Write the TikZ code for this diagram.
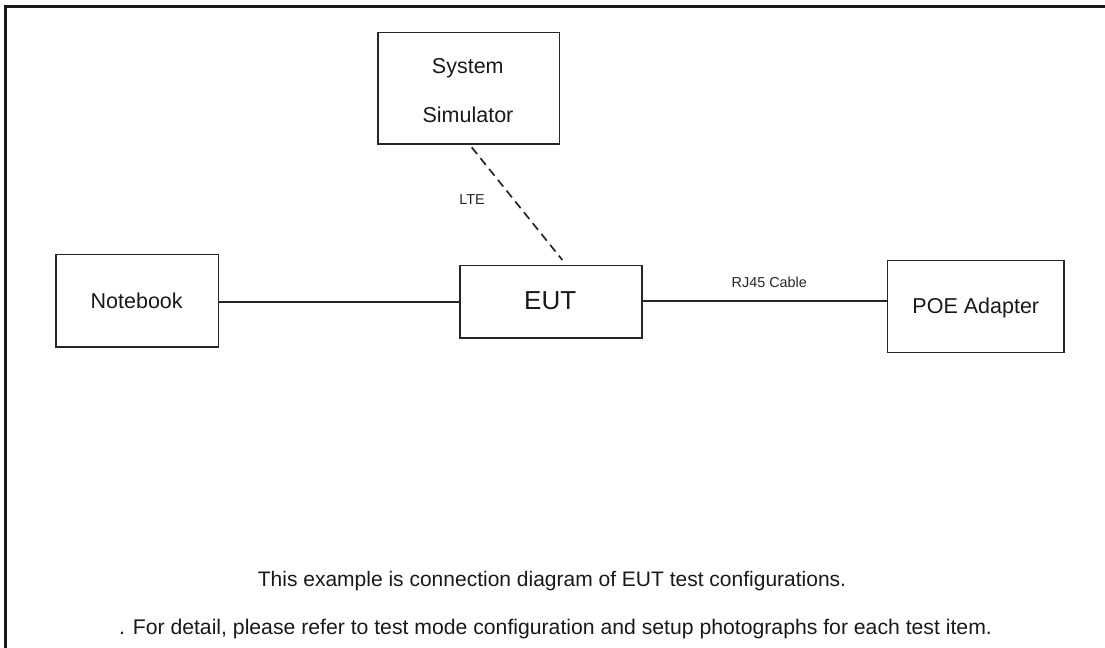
\documentclass[tikz,border=0pt]{standalone}
\usepackage{fontspec}
\setmainfont{Liberation Sans}
\begin{document}
\begin{tikzpicture}[x=1bp,y=-1bp,
  framebox/.style={draw=black!85,line width=1.5bp,inner sep=0pt,anchor=north west},
  wire/.style={draw=black!85,line width=1.7bp},
  big/.style={font=\fontsize{21.5bp}{26bp}\selectfont},
  plain/.style={inner sep=0pt,text=black!90,anchor=base},
  small/.style={font=\fontsize{14.4bp}{17bp}\selectfont,text=black!85,inner sep=0pt,anchor=base}]
\useasboundingbox (0,0) rectangle (1105,648);
\draw[black!90,line width=2.8bp] (5.5,648) -- (5.5,6.3) -- (1105,6.3);
\node[framebox,minimum width=181.5bp,minimum height=111.3bp] (sim) at (377,32) {};
\node[framebox,minimum width=162.4bp,minimum height=92bp] (nb) at (55.3,254) {};
\node[framebox,minimum width=182bp,minimum height=72.3bp] (eut) at (459.3,265) {};
\node[framebox,minimum width=176.5bp,minimum height=91.7bp] (poe) at (886.8,260) {};
\node[plain,big] (simA) at (467.8,74) {System};
\node[plain,big] (simB) at (468,122.3) {Simulator};
\node[plain,big] (nbt) at (136.7,308.3) {Notebook};
\node[plain,font=\fontsize{26bp}{30bp}\selectfont] (eutt) at (550.2,309.3) {EUT};
\node[plain,big] (poet) at (975.8,314) {POE Adapter};
\coordinate (dashA) at (471.7,147.3);
\coordinate (dashB) at (562.3,260);
\draw[wire,dash pattern=on 8.6bp off 5.3bp] (dashA) -- (dashB);
\draw[wire] (nb.east |- 0,302.2) -- (eut.west |- 0,302.2);
\draw[wire] (eut.east |- 0,301.2) -- (poe.west |- 0,301.2);
\node[small] (lte) at (472,205) {LTE};
\node[small] (rj) at (769.3,287.3) {RJ45 Cable};
\node[plain,font=\fontsize{21bp}{26bp}\selectfont] (c1) at (552,586) {This example is connection diagram of EUT test configurations.};
\node[plain,font=\fontsize{21.2bp}{26bp}\selectfont] (c2) at (555.5,634) {. For detail, please refer to test mode configuration and setup photographs for each test item.};
\end{tikzpicture}
\end{document}
